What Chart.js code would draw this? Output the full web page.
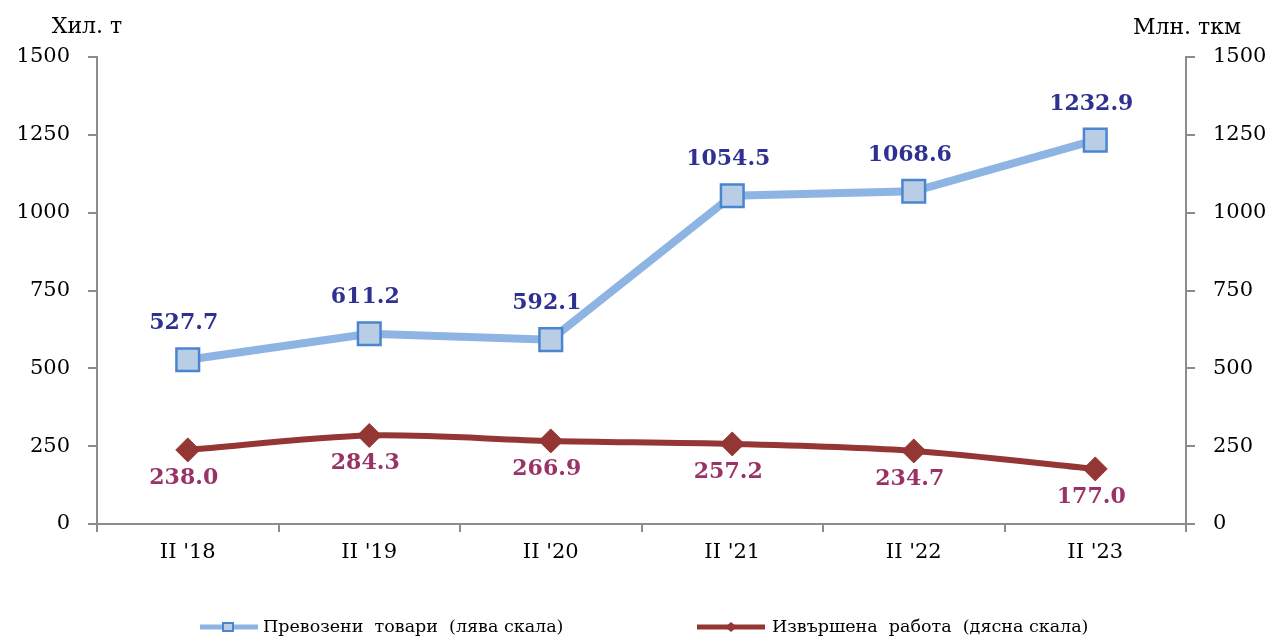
<!DOCTYPE html>
<html>
<head>
<meta charset="utf-8">
<script src="https://cdn.jsdelivr.net/npm/chart.js@4.4.1/dist/chart.umd.min.js"></script>
<style>
  body { margin: 0; background: #fff; }
  #wrap { width: 1274px; height: 636px; }
</style>
</head>
<body>
<div id="wrap"><canvas id="chart" width="1274" height="636"></canvas></div>
<script>
const categories = ["II '18", "II '19", "II '20", "II '21", "II '22", "II '23"];
const goodsValues = [527.7, 611.2, 592.1, 1054.5, 1068.6, 1232.9];
const workValues = [238.0, 284.3, 266.9, 257.2, 234.7, 177.0];
const axisMax = 1500;
const axisStep = 250;
const goodsLabel = "Превозени  товари  (лява скала)";
const workLabel = "Извършена  работа  (дясна скала)";
const leftTitle = "Хил. т";
const rightTitle = "Млн. ткм";

const FONT = "'DejaVu Serif', 'Liberation Serif', serif";
const AXIS_COLOR = "#8c8c8c";
const BLUE_LINE = "#8db4e2";
const BLUE_FILL = "#b9cde5";
const BLUE_EDGE = "#4a86d0";
const RED_LINE = "#943634";
const BLUE_TEXT = "#2e3192";
const RED_TEXT = "#993366";

// labels over / under the points
const valueLabels = {
  id: "valueLabels",
  afterDatasetsDraw(chart) {
    const ctx = chart.ctx;
    ctx.save();
    ctx.font = "bold 22px " + FONT;
    ctx.textAlign = "center";
    ctx.textBaseline = "middle";
    chart.data.datasets.forEach((ds, i) => {
      const meta = chart.getDatasetMeta(i);
      meta.data.forEach((pt, j) => {
        const v = ds.data[j];
        if (i === 0) {
          ctx.fillStyle = BLUE_TEXT;
          ctx.fillText(v.toFixed(1), pt.x - 4, pt.y - 36);
        } else {
          ctx.fillStyle = RED_TEXT;
          ctx.fillText(v.toFixed(1), pt.x - 4, pt.y + 28);
        }
      });
    });
    ctx.restore();
  }
};

// axis unit titles and the legend
const extras = {
  id: "extras",
  afterDraw(chart) {
    const ctx = chart.ctx;
    ctx.save();
    ctx.fillStyle = "#000";
    ctx.font = "22px " + FONT;
    ctx.textBaseline = "middle";
    ctx.textAlign = "center";
    ctx.fillText(leftTitle, 87, 27);
    ctx.fillText(rightTitle, 1187, 28);

    const ly = 627;
    // first item
    ctx.strokeStyle = BLUE_LINE;
    ctx.lineWidth = 5;
    ctx.beginPath();
    ctx.moveTo(200, ly);
    ctx.lineTo(258, ly);
    ctx.stroke();
    ctx.fillStyle = BLUE_FILL;
    ctx.strokeStyle = BLUE_EDGE;
    ctx.lineWidth = 2;
    ctx.fillRect(223, ly - 4, 10, 8);
    ctx.strokeRect(223, ly - 4, 10, 8);
    // second item
    ctx.strokeStyle = RED_LINE;
    ctx.lineWidth = 5;
    ctx.beginPath();
    ctx.moveTo(697, ly);
    ctx.lineTo(765, ly);
    ctx.stroke();
    ctx.fillStyle = RED_LINE;
    ctx.beginPath();
    ctx.moveTo(731 - 6, ly);
    ctx.lineTo(731, ly - 5);
    ctx.lineTo(731 + 6, ly);
    ctx.lineTo(731, ly + 5);
    ctx.closePath();
    ctx.fill();

    ctx.fillStyle = "#000";
    ctx.font = "17.5px " + FONT;
    ctx.textAlign = "left";
    ctx.fillText(goodsLabel, 263, ly);
    ctx.fillText(workLabel, 772, ly);
    ctx.restore();
  }
};

const tickFont = { family: FONT, size: 21 };
const plainNumber = (v) => String(v);

new Chart(document.getElementById("chart"), {
  type: "line",
  data: {
    labels: categories,
    datasets: [
      {
        label: goodsLabel,
        data: goodsValues,
        yAxisID: "y",
        borderColor: BLUE_LINE,
        borderWidth: 8,
        tension: 0,
        pointStyle: "rect",
        pointRadius: 16,
        pointBackgroundColor: BLUE_FILL,
        pointBorderColor: BLUE_EDGE,
        pointBorderWidth: 2.5,
        order: 1
      },
      {
        label: workLabel,
        data: workValues,
        yAxisID: "y1",
        borderColor: RED_LINE,
        borderWidth: 6,
        tension: 0.3,
        pointStyle: "rectRot",
        pointRadius: 12,
        pointBackgroundColor: RED_LINE,
        pointBorderColor: RED_LINE,
        pointBorderWidth: 1,
        order: 2
      }
    ]
  },
  options: {
    responsive: false,
    animation: false,
    layout: { padding: { top: 57, left: 0, right: 0, bottom: 0 } },
    plugins: {
      legend: { display: false },
      tooltip: { enabled: false }
    },
    scales: {
      x: {
        offset: true,
        grid: { offset: true, drawOnChartArea: false, color: AXIS_COLOR, tickLength: 8, lineWidth: 2 },
        border: { color: AXIS_COLOR, width: 2 },
        ticks: { font: tickFont, color: "#000", padding: 8 },
        afterFit(scale) { scale.height = 112; }
      },
      y: {
        position: "left",
        min: 0,
        max: axisMax,
        grid: { drawOnChartArea: false, color: AXIS_COLOR, tickLength: 9, lineWidth: 2 },
        border: { color: AXIS_COLOR, width: 2 },
        ticks: { stepSize: axisStep, font: tickFont, color: "#000", padding: 18, callback: plainNumber },
        afterFit(scale) { scale.width = 97; }
      },
      y1: {
        position: "right",
        min: 0,
        max: axisMax,
        grid: { drawOnChartArea: false, color: AXIS_COLOR, tickLength: 9, lineWidth: 2 },
        border: { color: AXIS_COLOR, width: 2 },
        ticks: { stepSize: axisStep, font: tickFont, color: "#000", padding: 18, callback: plainNumber },
        afterFit(scale) { scale.width = 88; }
      }
    }
  },
  plugins: [valueLabels, extras]
});
</script>
</body>
</html>
